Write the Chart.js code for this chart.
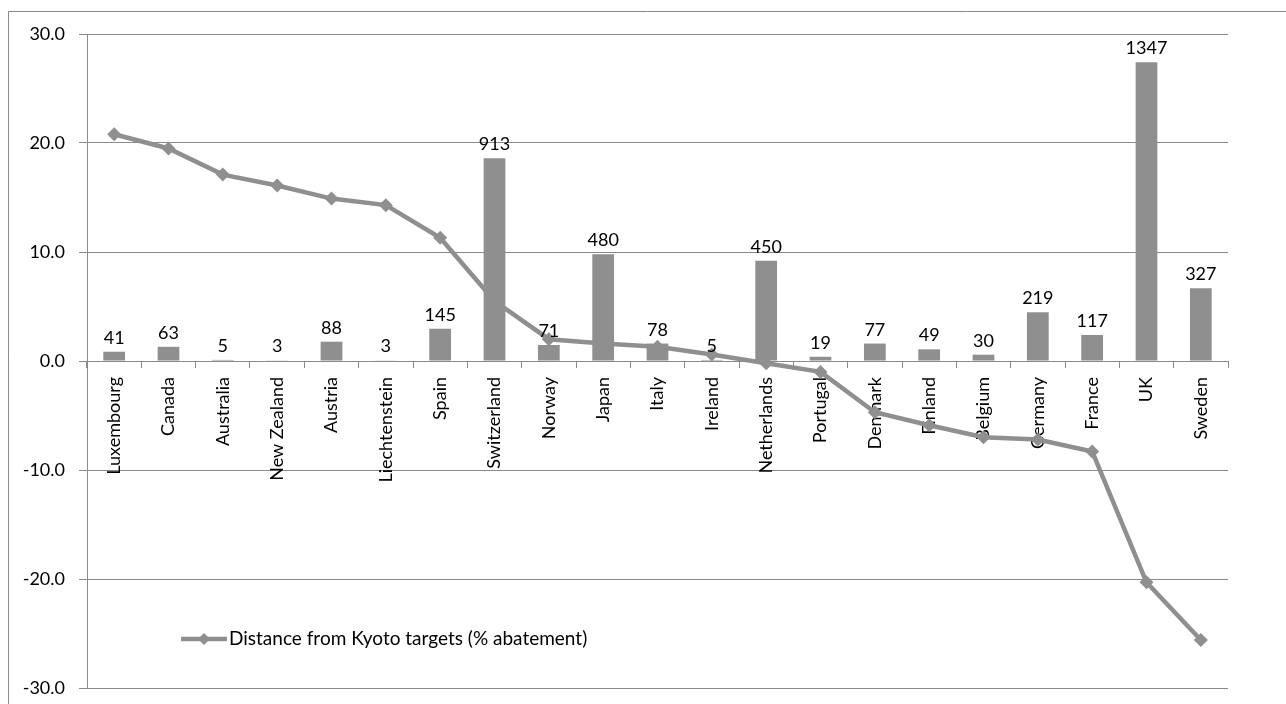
<!DOCTYPE html>
<html>
<head>
<meta charset="utf-8">
<script src="https://cdn.jsdelivr.net/npm/chart.js@4/dist/chart.umd.min.js"></script>
<style>
  html, body { margin: 0; padding: 0; background: #fff; }
  #wrap { width: 1286px; height: 704px; }
</style>
</head>
<body>
<div id="wrap"><canvas id="chart" width="1286" height="704"></canvas></div>
<script>
const countries = [
  "Luxembourg", "Canada", "Australia", "New Zealand", "Austria", "Liechtenstein",
  "Spain", "Switzerland", "Norway", "Japan", "Italy", "Ireland", "Netherlands",
  "Portugal", "Denmark", "Finland", "Belgium", "Germany", "France", "UK", "Sweden"
];
// bar heights (axis units)
const barValues = [
  0.85, 1.3, 0.1, 0.06, 1.77, 0.06,
  2.96, 18.6, 1.47, 9.8, 1.6, 0.1, 9.2,
  0.39, 1.6, 1.07, 0.58, 4.47, 2.39, 27.4, 6.67
];
// numbers printed above the bars
const barLabels = [
  "41", "63", "5", "3", "88", "3",
  "145", "913", "71", "480", "78", "5", "450",
  "19", "77", "49", "30", "219", "117", "1347", "327"
];
const kyotoDistance = [
  20.8, 19.5, 17.1, 16.1, 14.9, 14.3,
  11.3, 5.5, 2.0, 1.6, 1.3, 0.6, -0.2,
  -1.0, -4.7, -5.9, -7.0, -7.2, -8.3, -20.3, -25.6
];
const yTicks = [-30, -20, -10, 0, 10, 20, 30];

const grey = "#8f8f8f";
const lineGrey = "#8a8a8a";
const font = "Lato";

// numbers above bars, the legend and the outer frame
const extras = {
  id: "extras",
  beforeDraw(chart) {
    const c = chart.ctx;
    c.save();
    c.strokeStyle = lineGrey;
    c.lineWidth = 1;
    c.beginPath();
    c.moveTo(8.5, chart.height);
    c.lineTo(8.5, 11.5);
    c.lineTo(chart.width, 11.5);
    c.stroke();
    c.restore();
  },
  afterDatasetsDraw(chart) {
    const c = chart.ctx;
    const meta = chart.getDatasetMeta(1);
    c.save();
    c.font = "18px " + font;
    c.fillStyle = "#000";
    c.textAlign = "center";
    c.textBaseline = "alphabetic";
    meta.data.forEach((bar, i) => {
      c.fillText(barLabels[i], bar.x, bar.y - 8);
    });

    // legend
    const ds = chart.data.datasets[0];
    const area = chart.chartArea;
    const lx = area.left + 94, ly = area.top + 605;
    c.strokeStyle = ds.borderColor;
    c.lineWidth = 4.5;
    c.beginPath();
    c.moveTo(lx, ly);
    c.lineTo(lx + 46, ly);
    c.stroke();
    c.fillStyle = ds.borderColor;
    c.beginPath();
    c.moveTo(lx + 23, ly - 6);
    c.lineTo(lx + 29, ly);
    c.lineTo(lx + 23, ly + 6);
    c.lineTo(lx + 17, ly);
    c.closePath();
    c.fill();
    c.font = "19px " + font;
    c.fillStyle = "#000";
    c.textAlign = "left";
    c.textBaseline = "middle";
    c.fillText(ds.label, lx + 48, ly);
    c.restore();
  }
};

new Chart(document.getElementById("chart"), {
  type: "bar",
  data: {
    labels: countries,
    datasets: [
      {
        type: "line",
        label: "Distance from Kyoto targets (% abatement)",
        data: kyotoDistance,
        borderColor: grey,
        backgroundColor: grey,
        borderWidth: 4.5,
        pointStyle: "rectRot",
        pointRadius: 7,
        pointBackgroundColor: grey,
        pointBorderColor: grey,
        pointBorderWidth: 0,
        tension: 0,
        order: 1
      },
      {
        label: "Emissions",
        data: barValues,
        backgroundColor: grey,
        borderWidth: 0,
        barPercentage: 0.4,
        categoryPercentage: 1,
        order: 2
      }
    ]
  },
  options: {
    responsive: false,
    animation: false,
    layout: { padding: { left: 0, right: 58, top: 34, bottom: 16 } },
    plugins: {
      legend: { display: false },
      tooltip: { enabled: false }
    },
    scales: {
      x: {
        position: { y: 0 },
        offset: true,
        grid: {
          offset: true,
          drawOnChartArea: false,
          drawTicks: true,
          tickLength: 6,
          color: lineGrey
        },
        border: { display: true, color: lineGrey },
        ticks: {
          autoSkip: false,
          minRotation: 90,
          maxRotation: 90,
          padding: 10,
          color: "#000",
          font: { family: font, size: 18 }
        }
      },
      y: {
        min: -30,
        max: 30,
        afterFit(scale) {
          scale.width = 87;
          scale.paddingTop = 0;
          scale.paddingBottom = 0;
        },
        afterBuildTicks(scale) { scale.ticks = yTicks.map(v => ({ value: v })); },
        grid: {
          color: lineGrey,
          lineWidth: 1,
          tickLength: 8
        },
        border: { display: true, color: lineGrey },
        ticks: {
          padding: 14,
          color: "#000",
          font: { family: font, size: 18 },
          callback: v => v.toFixed(1)
        }
      }
    }
  },
  plugins: [extras]
});
</script>
</body>
</html>
